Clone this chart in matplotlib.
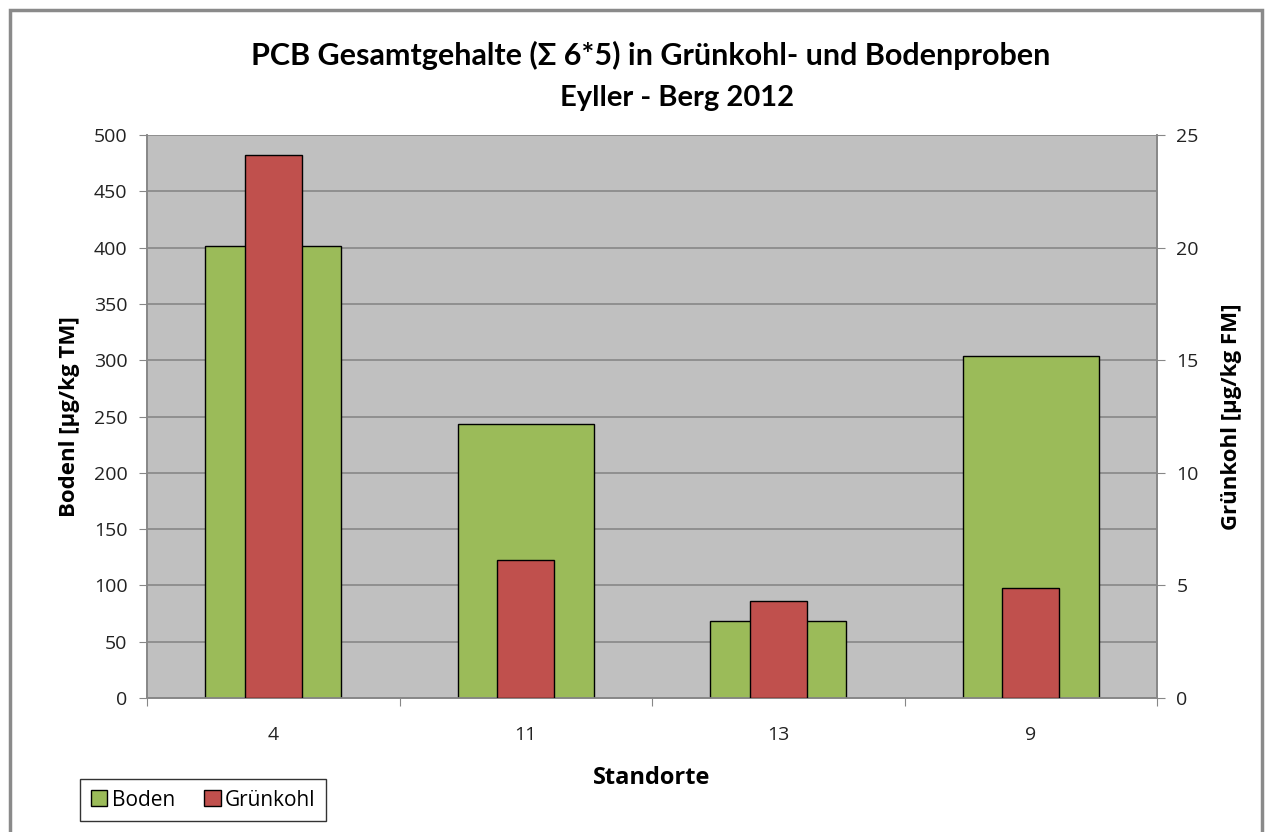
import matplotlib
matplotlib.use("Agg")
import matplotlib.pyplot as plt
import matplotlib.patches as mpatches
import numpy as np

plt.rcParams['font.family'] = ['Open Sans', 'DejaVu Sans']

categories = ['4', '11', '13', '9']
boden = [401, 243, 68, 304]
gruenkohl = [24.1, 6.15, 4.3, 4.9]
left_ticks = list(range(0, 501, 50))
right_ticks = list(range(0, 26, 5))

W, H = 1266, 832
fig = plt.figure(figsize=(W/100, H/100), dpi=100)
fig.patch.set_facecolor('white')

ax = fig.add_axes([147/W, 1-698/H, (1157-147)/W, (698-135)/H])
ax.set_facecolor('#C0C0C0')
ax2 = ax.twinx()

x = np.arange(len(categories))
green = '#9BBB59'
red = '#C0504D'
ax.bar(x, boden, width=0.54, color=green, edgecolor='black', linewidth=1.0, zorder=3, label='Boden')
ax2.bar(x, gruenkohl, width=0.226, color=red, edgecolor='black', linewidth=1.0, zorder=3, label='Grünkohl')

ax.set_xlim(-0.5, len(categories)-0.5)
ax.set_ylim(0, 500)
ax2.set_ylim(0, 25)
ax.set_yticks(left_ticks)
ax2.set_yticks(right_ticks)
ax.yaxis.grid(True, color='#878787', linewidth=1.2, zorder=0)
ax.set_axisbelow(True)

ax.set_xticks(np.arange(-0.5, len(categories), 1.0))
ax.set_xticklabels([])
ax.set_xticks(x, minor=True)
ax.set_xticklabels(categories, minor=True)
ax.tick_params(axis='x', which='major', length=6, color='#878787', direction='out')
ax.tick_params(axis='x', which='minor', length=0, labelsize=14, pad=20, colors='#222222')
ax.tick_params(axis='y', length=6, color='#878787', labelsize=14, colors='#222222', pad=8)
ax2.tick_params(axis='y', length=6, color='#878787', labelsize=14, colors='#222222', pad=8)

for a in (ax, ax2):
    a.spines['top'].set_visible(False)
    for s in ['left', 'bottom', 'right']:
        a.spines[s].set_color('#878787')
        a.spines[s].set_linewidth(1.2)

ax.set_ylabel('Bodenl [µg/kg TM]', fontsize=16, fontweight='bold', labelpad=10)
ax2.set_ylabel('Grünkohl [µg/kg FM]', fontsize=16, fontweight='bold', labelpad=16, rotation=90)
ax.set_xlabel('Standorte', fontsize=17, fontweight='bold', labelpad=16)

fig.text(651/W, 1-55/H, 'PCB Gesamtgehalte (Σ 6*5) in Grünkohl- und Bodenproben',
         ha='center', va='center', fontsize=22, fontweight='bold', family=['Lato', 'DejaVu Sans'])
fig.text(677/W, 1-98/H, 'Eyller - Berg 2012',
         ha='center', va='center', fontsize=21, fontweight='bold', family=['Lato', 'DejaVu Sans'])

h1, l1 = ax.get_legend_handles_labels()
h2, l2 = ax2.get_legend_handles_labels()
leg = fig.legend(h1 + h2, l1 + l2, loc='center', bbox_to_anchor=(203/W, 1-800/H),
                 ncol=2, fontsize=15, frameon=True, fancybox=False, edgecolor='black',
                 handlelength=0.8, handleheight=0.8, handletextpad=0.2, columnspacing=1.4,
                 borderpad=0.5, borderaxespad=0)
leg.get_frame().set_linewidth(1.0)

frame = mpatches.Rectangle((10/W, -0.01), (1262-10)/W, 1-10/H+0.01, transform=fig.transFigure,
                           fill=False, edgecolor='#8A8A8A', linewidth=2.5, clip_on=False)
fig.patches.append(frame)

fig.savefig('out.png', dpi=100)
